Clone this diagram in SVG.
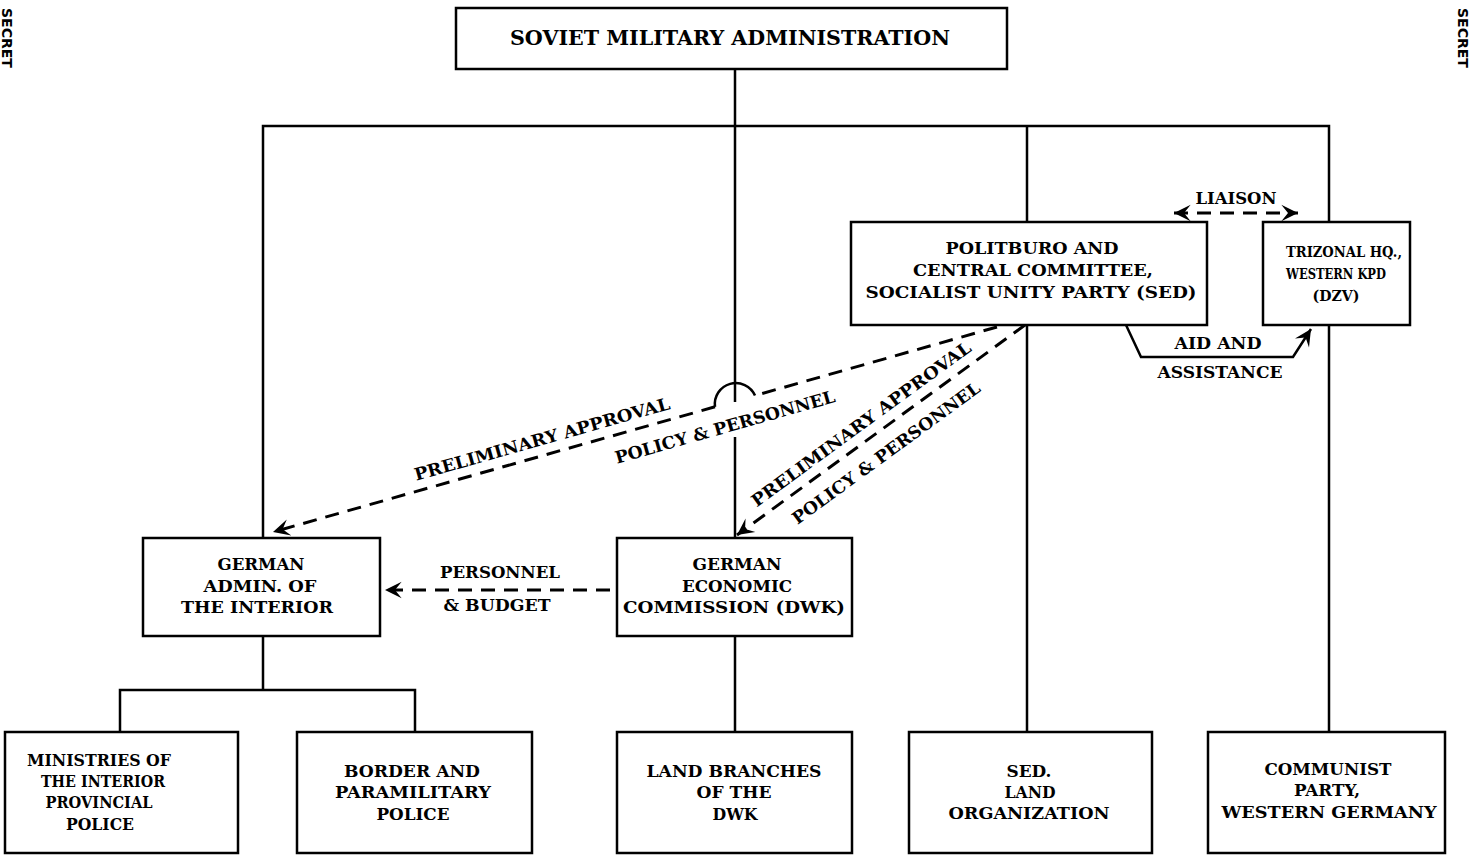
<svg xmlns="http://www.w3.org/2000/svg" width="1471" height="855" viewBox="0 0 1471 855">
<style>
.box{fill:#fff;stroke:#000;stroke-width:2.5}
.ln{fill:none;stroke:#000;stroke-width:2.5}
.dash{fill:none;stroke:#000;stroke-width:3;stroke-dasharray:14 9}
.t{font-family:"DejaVu Serif","Liberation Serif",serif;font-weight:bold;font-size:17.5px;text-anchor:middle;fill:#000}
.title{font-size:20px}
.sm{font-size:16px}
.xs{font-size:15px}
.lab{font-family:"DejaVu Serif","Liberation Serif",serif;font-weight:bold;font-size:17px;text-anchor:middle;fill:#000}
.mark{font-family:"DejaVu Sans","Liberation Sans",sans-serif;font-weight:bold;font-size:14px;fill:#000}
</style>
<defs>
<marker id="ah" markerUnits="userSpaceOnUse" markerWidth="20" markerHeight="20" viewBox="-16 -9 18 18" refX="0" refY="0" orient="auto-start-reverse">
<path d="M0,0 L-15,-7.5 L-9,0 L-15,7.5 Z" fill="#000"/>
</marker>
</defs>
<text class="mark" transform="translate(2,8) rotate(90)">SECRET</text>
<text class="mark" transform="translate(1458,8) rotate(90)">SECRET</text>
<g id="connectors">
<path class="ln" d="M735,69 V402 M735,437 V538"/>
<path class="ln" d="M263,538 V126 H1329 V222 M1027,126 V222 M1027,325 V732 M1329,325 V732"/>
<path class="ln" d="M263,636 V690 M120,732 V690 H415 V732 M735,636 V732"/>
<path class="dash" d="M997,327 L755,395.5"/>
<path class="dash" d="M715,406.8 L273,532" marker-end="url(#ah)"/>
<path class="ln" d="M755,395.5 A21,21 0 0 0 715,406.8"/>
<path class="dash" d="M1025,325 L737,535" marker-end="url(#ah)"/>
<path class="dash" d="M610,590 L385,590" marker-end="url(#ah)"/>
<path class="dash" d="M1174,213 L1298,213" marker-start="url(#ah)" marker-end="url(#ah)"/>
<path class="ln" d="M1126,325 L1141,357 H1293 L1311,329" marker-end="url(#ah)"/>
<text class="lab" x="1236" y="204" textLength="81" lengthAdjust="spacingAndGlyphs">LIAISON</text>
<text class="lab" x="1218" y="349" textLength="87" lengthAdjust="spacingAndGlyphs">AID AND</text>
<text class="lab" x="1220" y="378" textLength="125" lengthAdjust="spacingAndGlyphs">ASSISTANCE</text>
<text class="lab" x="500" y="578" textLength="120" lengthAdjust="spacingAndGlyphs">PERSONNEL</text>
<text class="lab" x="497" y="611" textLength="107" lengthAdjust="spacingAndGlyphs">&amp; BUDGET</text>
<text class="lab" transform="translate(542,439) rotate(-15.8)" y="6" textLength="265" lengthAdjust="spacingAndGlyphs">PRELIMINARY APPROVAL</text>
<text class="lab" transform="translate(725,427) rotate(-15.8)" y="6" textLength="228" lengthAdjust="spacingAndGlyphs">POLICY &amp; PERSONNEL</text>
<text class="lab" transform="translate(861,424) rotate(-36.1)" y="6" textLength="267" lengthAdjust="spacingAndGlyphs">PRELIMINARY APPROVAL</text>
<text class="lab" transform="translate(886,453) rotate(-36.1)" y="6" textLength="228" lengthAdjust="spacingAndGlyphs">POLICY &amp; PERSONNEL</text>
</g>
<g id="sma">
<rect class="box" x="456" y="8" width="551" height="61"/>
<text class="t title" x="730" y="45" textLength="440" lengthAdjust="spacingAndGlyphs">SOVIET MILITARY ADMINISTRATION</text>
</g>
<g id="politburo">
<rect class="box" x="851" y="222" width="356" height="103"/>
<text class="t" x="1032" y="254" textLength="173" lengthAdjust="spacingAndGlyphs">POLITBURO AND</text>
<text class="t" x="1033" y="276" textLength="240" lengthAdjust="spacingAndGlyphs">CENTRAL COMMITTEE,</text>
<text class="t" x="1031" y="298" textLength="331" lengthAdjust="spacingAndGlyphs">SOCIALIST UNITY PARTY (SED)</text>
</g>
<g id="trizonal">
<rect class="box" x="1263" y="222" width="147" height="103"/>
<text class="t xs" x="1344" y="257" textLength="116" lengthAdjust="spacingAndGlyphs">TRIZONAL HQ.,</text>
<text class="t xs" x="1336" y="279" textLength="100" lengthAdjust="spacingAndGlyphs">WESTERN KPD</text>
<text class="t xs" x="1336" y="301" textLength="47" lengthAdjust="spacingAndGlyphs">(DZV)</text>
</g>
<g id="admin-interior">
<rect class="box" x="143" y="538" width="237" height="98"/>
<text class="t" x="261" y="570" textLength="87" lengthAdjust="spacingAndGlyphs">GERMAN</text>
<text class="t" x="260" y="592" textLength="113" lengthAdjust="spacingAndGlyphs">ADMIN. OF</text>
<text class="t" x="257" y="613" textLength="152" lengthAdjust="spacingAndGlyphs">THE INTERIOR</text>
</g>
<g id="dwk">
<rect class="box" x="617" y="538" width="235" height="98"/>
<text class="t" x="737" y="570" textLength="89" lengthAdjust="spacingAndGlyphs">GERMAN</text>
<text class="t" x="737" y="592" textLength="110" lengthAdjust="spacingAndGlyphs">ECONOMIC</text>
<text class="t" x="734" y="613" textLength="222" lengthAdjust="spacingAndGlyphs">COMMISSION (DWK)</text>
</g>
<g id="ministries">
<rect class="box" x="5" y="732" width="233" height="121"/>
<text class="t sm" x="99" y="766" textLength="144" lengthAdjust="spacingAndGlyphs">MINISTRIES OF</text>
<text class="t sm" x="103" y="787" textLength="124" lengthAdjust="spacingAndGlyphs">THE INTERIOR</text>
<text class="t sm" x="99" y="808" textLength="107" lengthAdjust="spacingAndGlyphs">PROVINCIAL</text>
<text class="t sm" x="100" y="830" textLength="68" lengthAdjust="spacingAndGlyphs">POLICE</text>
</g>
<g id="border">
<rect class="box" x="297" y="732" width="235" height="121"/>
<text class="t" x="412" y="777" textLength="136" lengthAdjust="spacingAndGlyphs">BORDER AND</text>
<text class="t" x="413" y="798" textLength="156" lengthAdjust="spacingAndGlyphs">PARAMILITARY</text>
<text class="t" x="413" y="820" textLength="73" lengthAdjust="spacingAndGlyphs">POLICE</text>
</g>
<g id="land-branches">
<rect class="box" x="617" y="732" width="235" height="121"/>
<text class="t" x="734" y="777" textLength="175" lengthAdjust="spacingAndGlyphs">LAND BRANCHES</text>
<text class="t" x="734" y="798" textLength="75" lengthAdjust="spacingAndGlyphs">OF THE</text>
<text class="t" x="735" y="820" textLength="45" lengthAdjust="spacingAndGlyphs">DWK</text>
</g>
<g id="sed-land">
<rect class="box" x="909" y="732" width="243" height="121"/>
<text class="t" x="1029" y="777" textLength="45" lengthAdjust="spacingAndGlyphs">SED.</text>
<text class="t" x="1030" y="798" textLength="51" lengthAdjust="spacingAndGlyphs">LAND</text>
<text class="t" x="1029" y="819" textLength="161" lengthAdjust="spacingAndGlyphs">ORGANIZATION</text>
</g>
<g id="communist-party">
<rect class="box" x="1208" y="732" width="237" height="121"/>
<text class="t" x="1328" y="775" textLength="127" lengthAdjust="spacingAndGlyphs">COMMUNIST</text>
<text class="t" x="1327" y="796" textLength="66" lengthAdjust="spacingAndGlyphs">PARTY,</text>
<text class="t" x="1329" y="818" textLength="215" lengthAdjust="spacingAndGlyphs">WESTERN GERMANY</text>
</g>
</svg>
